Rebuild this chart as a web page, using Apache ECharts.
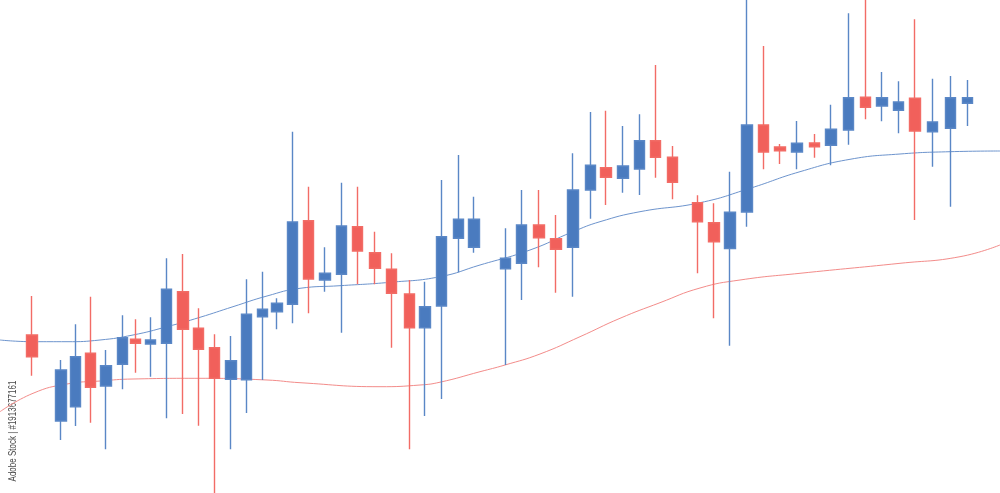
<!DOCTYPE html>
<html>
<head>
<meta charset="utf-8">
<script src="https://cdn.jsdelivr.net/npm/echarts@6/dist/echarts.min.js"></script>
<style>
html,body{margin:0;padding:0;background:#ffffff;}
#chart{width:1000px;height:493px;}
</style>
</head>
<body>
<div id="chart"></div>
<script>
// time positions of each session
var times = [3.20, 6.10, 7.57, 9.07, 10.60, 12.23, 13.57, 15.07, 16.63, 18.30,
  19.87, 21.47, 23.10, 24.67, 26.23, 27.70, 29.27, 30.87, 32.50, 34.17,
  35.77, 37.50, 39.17, 40.93, 42.50, 44.17, 45.83, 47.40, 50.57, 52.17,
  53.90, 55.60, 57.30, 59.07, 60.60, 62.30, 63.97, 65.57, 67.27, 69.73,
  71.40, 73.00, 74.70, 76.37, 78.00, 79.70, 81.43, 83.10, 84.87, 86.53,
  88.20, 89.87, 91.50, 93.27, 95.03, 96.77];
var opens = [15.80, 7.20, 8.63, 13.97, 10.70, 12.87, 15.37, 14.90, 14.97, 20.13,
  16.47, 14.53, 11.37, 11.32, 17.63, 18.13, 18.87, 27.23, 21.30, 21.87,
  26.63, 24.03, 22.37, 19.90, 16.53, 18.70, 25.47, 24.57, 22.43, 22.97,
  26.80, 25.43, 24.57, 30.30, 32.53, 31.47, 32.40, 35.23, 33.57, 29.03,
  27.03, 24.45, 28.10, 36.80, 34.60, 34.10, 35.00, 34.77, 36.30, 39.57,
  38.70, 38.27, 39.47, 36.13, 36.47, 38.97];
var closes = [13.63, 12.30, 13.63, 10.57, 12.73, 15.53, 14.97, 15.30, 20.37, 16.37,
  14.37, 11.47, 13.23, 17.87, 18.37, 18.97, 27.10, 21.40, 21.97, 26.70,
  24.20, 22.47, 19.97, 16.53, 18.63, 25.63, 27.37, 27.37, 23.47, 26.80,
  25.53, 24.37, 30.30, 32.77, 31.57, 32.70, 35.23, 33.57, 31.07, 27.13,
  25.13, 28.07, 36.80, 34.10, 34.23, 34.97, 34.63, 36.37, 39.53, 38.57,
  39.53, 39.10, 36.20, 37.10, 39.53, 39.53];
var lows = [11.73, 5.30, 6.70, 7.03, 4.37, 10.37, 12.03, 11.63, 7.47, 7.90,
  6.73, -0.20, 4.37, 8.00, 11.30, 16.37, 16.97, 17.97, 20.13, 16.03,
  20.87, 20.87, 14.53, 4.37, 7.70, 9.40, 22.07, 24.03, 12.80, 19.30,
  22.57, 20.03, 19.63, 27.43, 28.80, 30.03, 29.80, 31.53, 29.37, 21.97,
  17.47, 14.73, 26.63, 32.37, 32.90, 32.37, 33.53, 32.77, 34.83, 37.37,
  37.17, 35.97, 27.30, 32.63, 28.63, 36.70];
var highs = [19.70, 13.30, 16.87, 19.63, 14.30, 17.77, 17.37, 17.57, 23.47, 23.90,
  18.47, 15.87, 15.70, 21.37, 22.13, 19.47, 36.13, 30.63, 24.57, 31.03,
  30.63, 26.13, 23.97, 21.30, 21.13, 31.30, 33.80, 29.63, 26.47, 30.30,
  30.30, 27.80, 33.97, 38.10, 38.23, 36.70, 37.87, 42.80, 34.70, 29.77,
  28.97, 32.13, 49.80, 44.70, 34.90, 37.20, 35.90, 38.83, 47.97, 49.80,
  42.10, 41.17, 47.37, 41.43, 41.70, 41.30];

// moving average lines (time, value)
var maFastT = [0, 3.3, 6.7, 10.0, 13.3, 16.7, 20.0, 23.3, 26.7, 30.0, 34.0, 39.0, 44.0, 48.0, 53.0, 57.3, 60.0, 64.0, 70.0, 75.0, 80.0, 85.0, 90.0, 95.0, 100.0];
var maFastV = [15.30, 15.13, 15.13, 15.30, 15.80, 16.63, 17.57, 18.63, 19.70, 20.47, 20.73, 21.07, 21.63, 22.80, 24.30, 26.13, 27.13, 28.13, 29.03, 30.47, 32.13, 33.37, 33.90, 34.13, 34.20];
var maSlowT = [0, 3.3, 6.7, 10.0, 13.3, 20.0, 26.7, 30.0, 38.0, 42.0, 44.0, 48.0, 50.5, 54.0, 58.0, 62.0, 66.0, 70.0, 74.0, 80.0, 90.0, 96.0, 100.0];
var maSlowV = [8.13, 9.97, 10.90, 11.20, 11.40, 11.47, 11.30, 11.03, 10.63, 10.80, 11.08, 12.13, 12.80, 13.90, 15.63, 17.47, 19.03, 20.50, 21.30, 21.97, 22.97, 23.63, 24.80];

var candleData = times.map(function (t, i) {
  return [t, opens[i], closes[i], lows[i], highs[i]];
});
var fastData = maFastT.map(function (t, i) { return [t, maFastV[i]]; });
var slowData = maSlowT.map(function (t, i) { return [t, maSlowV[i]]; });

var chart = echarts.init(document.getElementById('chart'), null, {renderer: 'canvas'});
chart.setOption({
  animation: false,
  backgroundColor: '#ffffff',
  grid: {left: 0, right: 0, top: 0, bottom: 0},
  xAxis: {type: 'value', min: 0, max: 100, show: false},
  yAxis: {type: 'value', min: 0, max: 49.3, show: false, splitLine: {show: false}},
  series: [
    {
      type: 'line',
      data: slowData,
      smooth: 0.5,
      symbol: 'none',
      z: 1,
      lineStyle: {color: '#f38c8a', width: 1}
    },
    {
      type: 'line',
      data: fastData,
      smooth: 0.5,
      symbol: 'none',
      z: 1,
      lineStyle: {color: '#6d94cd', width: 1}
    },
    {
      type: 'candlestick',
      data: candleData,
      encode: {x: 0, y: [1, 2, 3, 4]},
      barWidth: 11,
      clip: true,
      z: 2,
      itemStyle: {
        color: '#4a7bbf',
        color0: '#f1605b',
        borderColor: '#5a87c6',
        borderColor0: '#f26c66',
        borderWidth: 1.4
      }
    }
  ],
  graphic: [
    {
      type: 'text',
      x: 13,
      y: 431,
      rotation: Math.PI / 2,
      scaleX: 0.8,
      style: {
        text: 'Adobe Stock | #1913677161',
        font: '10px "Liberation Sans", sans-serif',
        fill: '#4a4a4a',
        textAlign: 'center',
        textVerticalAlign: 'middle'
      }
    }
  ]
});
</script>
</body>
</html>
